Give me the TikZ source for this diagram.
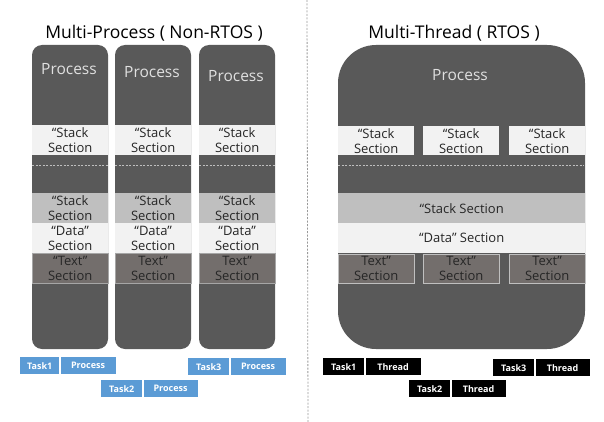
\documentclass[tikz,border=0pt]{standalone}
\usepackage{fontspec}
\setmainfont{Open Sans}
\usetikzlibrary{positioning}
\definecolor{procgray}{HTML}{595959}
\definecolor{lightsec}{HTML}{F2F2F2}
\definecolor{stackgray}{HTML}{BFBFBF}
\definecolor{textsec}{HTML}{736E6C}
\definecolor{taskblue}{HTML}{5B9BD5}

\begin{document}
\begin{tikzpicture}[x=1pt, y=-1pt,
	sec/.style={anchor=north west, inner sep=0pt, align=center, text=black!85,
		font=\fontsize{13}{15}\selectfont},
	proclabel/.style={text=black!12, font=\fontsize{15.5}{17}\selectfont},
	tasklbl/.style={inner sep=0pt, minimum height=17pt, text=white,
		font=\fontsize{9}{10}\selectfont\bfseries},
	sepline/.style={stackgray, line width=0.6pt, dash pattern=on 2pt off 1.5pt}]
	\useasboundingbox (0,0) rectangle (604,422);
	% titles and divider
	\node[font=\fontsize{17.5}{19}\selectfont] (tleft) at (154,33) {Multi-Process ( Non-RTOS )};
	\node[font=\fontsize{17.5}{19}\selectfont] (tright) at (454,33) {Multi-Thread ( RTOS )};
	\coordinate (divtop) at (307,0);
	\coordinate (divbot) at (308,422);
	\draw[black!40, line width=0.8pt, dash pattern=on 2pt off 1.5pt] (divtop) -- (divbot);
	% left side: one column per process
	\foreach \i/\xl/\py/\tq in {1/32/69/“Text”, 2/115/72/Text”, 3/199/76/Text”}{
		\fill[procgray, rounded corners=10pt] (\xl,45) rectangle ++(76,304);
		\node[proclabel] (p\i) at (\xl+37,\py) {Process};
		\node[sec, fill=lightsec, minimum width=76pt, minimum height=30pt] (st\i) at (\xl,125) {“Stack\\Section};
		\draw[sepline] (\xl,165) -- ++(76,0);
		\node[sec, fill=stackgray, minimum width=76pt, minimum height=30pt] (sb\i) at (\xl,193) {“Stack\\Section};
		\node[sec, fill=lightsec, minimum width=76pt, minimum height=30pt] (d\i) at (\xl,223) {“Data”\\Section};
		\node[sec, fill=textsec, draw=black!35, minimum width=76pt, minimum height=30pt] (tx\i) at (\xl,253) {\tq\\Section};
	}
	% right side: one process, three threads
	\fill[procgray, rounded corners=38pt] (338,45) rectangle (585,349);
	\node[proclabel] (pr) at (460,75) {Process};
	\foreach \i/\xl in {1/338, 2/423, 3/509}{
		\node[sec, fill=lightsec, minimum width=76pt, minimum height=29pt] (rst\i) at (\xl,126) {“Stack\\Section};
		\node[sec, fill=textsec, draw=stackgray, minimum width=76pt, minimum height=29pt] (rtx\i) at (\xl,254) {Text”\\Section};
	}
	\draw[sepline] (338,165) -- (584,165);
	\node[sec, fill=stackgray, minimum width=247pt, minimum height=30pt] (rsb) at (338,193) {“Stack Section};
	\node[sec, fill=lightsec, minimum width=247pt, minimum height=30pt] (rd) at (338,223) {“Data” Section};
	% task labels
	\node[tasklbl, fill=taskblue, minimum width=39pt, anchor=north west] (task1) at (20,357) {Task1};
	\node[tasklbl, fill=taskblue, minimum width=55pt, right=1pt of task1] (kind1) {Process};
	\node[tasklbl, fill=taskblue, minimum width=41pt, anchor=north west] (task2) at (101,380) {Task2};
	\node[tasklbl, fill=taskblue, minimum width=54pt, right=1pt of task2] (kind2) {Process};
	\node[tasklbl, fill=taskblue, minimum width=41pt, anchor=north west] (task3) at (188,358) {Task3};
	\node[tasklbl, fill=taskblue, minimum width=55pt, right=1pt of task3] (kind3) {Process};
	\node[tasklbl, fill=black, minimum width=41pt, anchor=north west] (rtask1) at (323,358) {Task1};
	\node[tasklbl, fill=black, minimum width=55pt, right=1pt of rtask1] (rkind1) {Thread};
	\node[tasklbl, fill=black, minimum width=41pt, anchor=north west] (rtask2) at (409,380) {Task2};
	\node[tasklbl, fill=black, minimum width=54pt, right=1pt of rtask2] (rkind2) {Thread};
	\node[tasklbl, fill=black, minimum width=41pt, anchor=north west] (rtask3) at (493,359) {Task3};
	\node[tasklbl, fill=black, minimum width=54pt, right=1pt of rtask3] (rkind3) {Thread};
\end{tikzpicture}
\end{document}
